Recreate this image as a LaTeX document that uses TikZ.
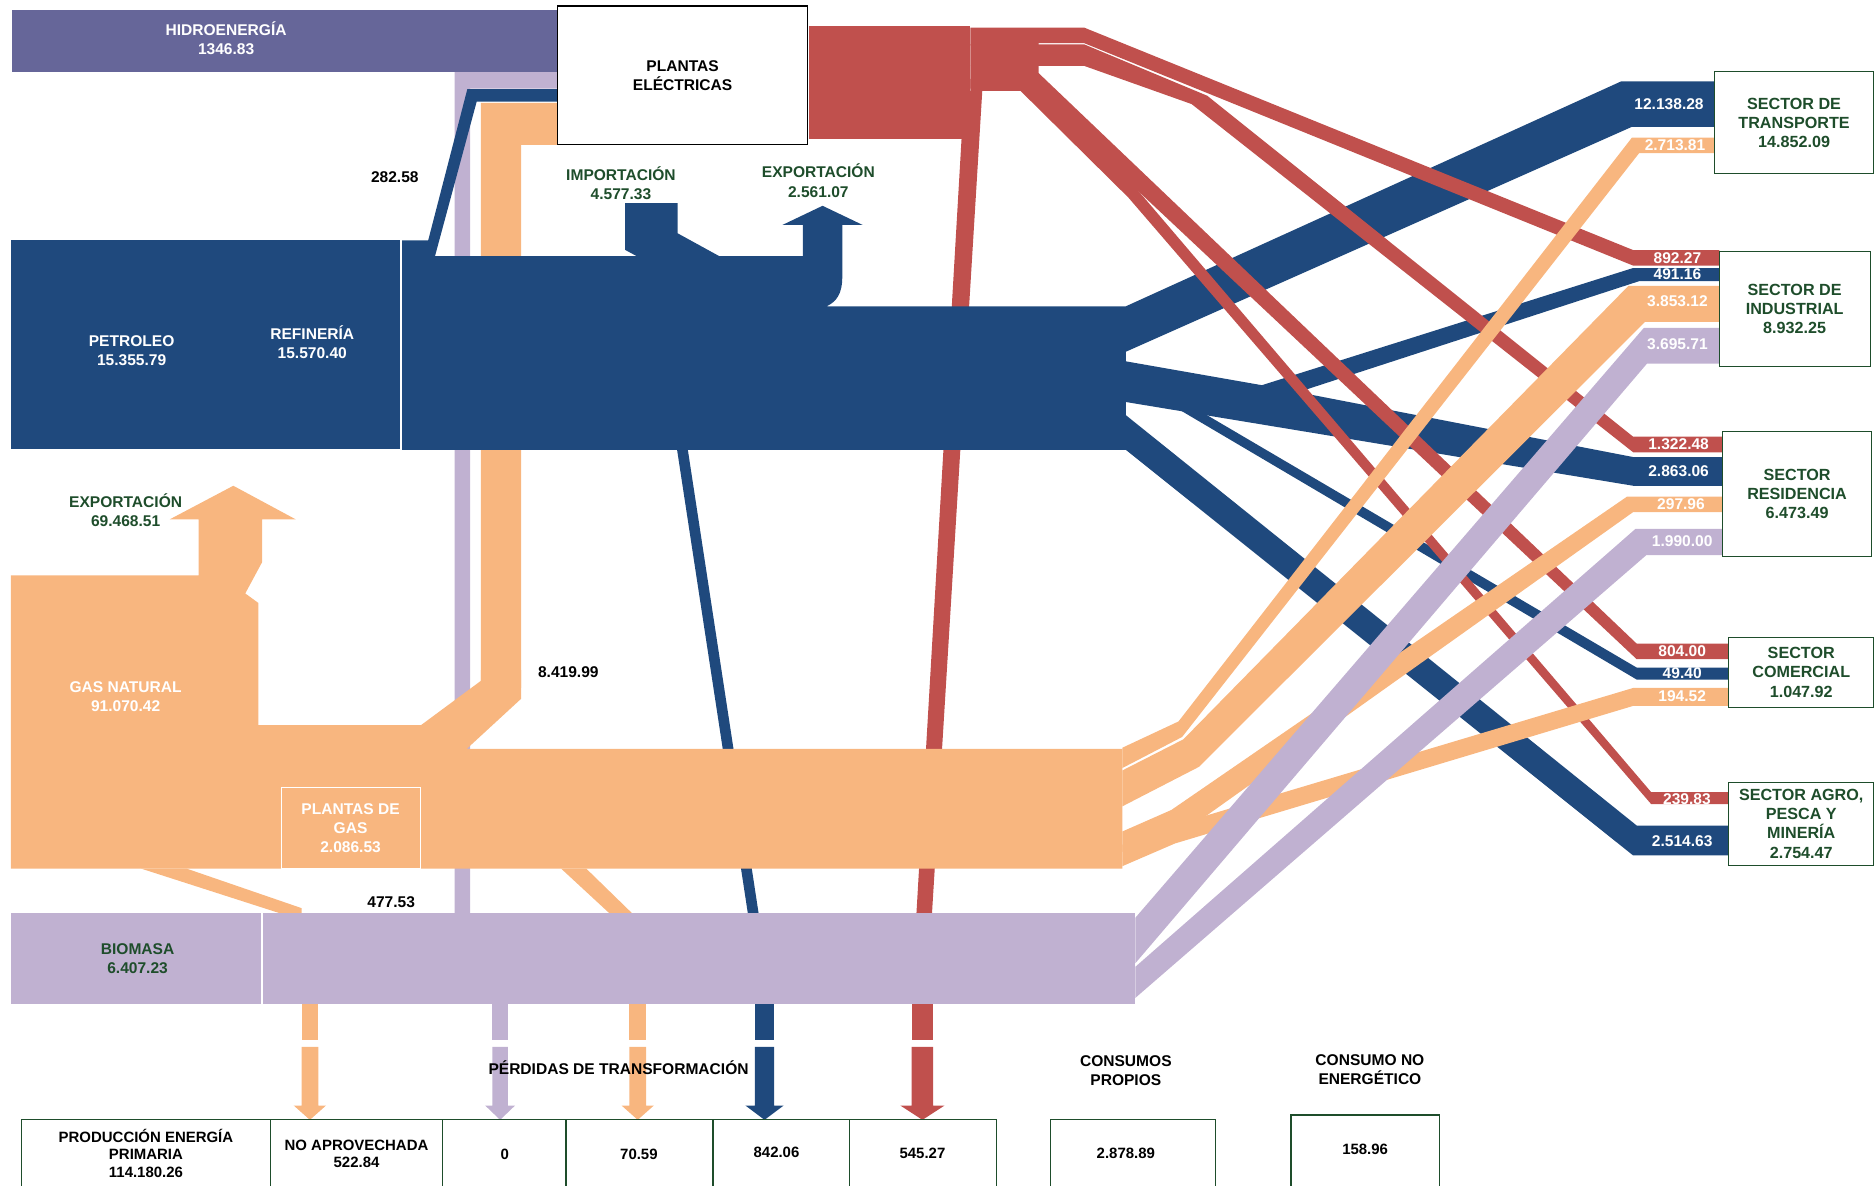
\documentclass[tikz,border=0pt]{standalone}
\usepackage{fontspec}
\setmainfont{Liberation Sans}
\definecolor{azul}{RGB}{31,73,125}
\definecolor{rojo}{RGB}{192,80,77}
\definecolor{naranja}{RGB}{248,182,127}
\definecolor{lila}{RGB}{192,177,209}
\definecolor{hidro}{RGB}{102,102,153}
\definecolor{verde}{RGB}{30,77,43}
\tikzset{
  txt/.style={font=\bfseries\fontsize{13}{16}\selectfont, align=center, inner sep=0pt},
  blanco/.style={txt, text=white},
  oscuro/.style={txt, text=verde},
  negro/.style={txt, text=black},
  tabla/.style={negro, font=\bfseries\fontsize{12.5}{14.5}\selectfont},
  sector/.style={oscuro, draw=verde, fill=white, line width=0.8pt, font=\bfseries\fontsize{13.5}{16}\selectfont},
  caja/.style={draw=verde, line width=1pt}
}
\begin{document}
\begin{tikzpicture}[x=1pt,y=-1pt]
\useasboundingbox (0,0) rectangle (1568,991);

% flujos hacia plantas electricas
\fill[lila] (380,763) -- (380,60) -- (466,60) -- (466,74) -- (393,74) -- (393,763) -- cycle;
\fill[naranja] (402,575) -- (402,86) -- (466,86) -- (466,121) -- (435.6,121) -- (435.6,575) -- cycle;
\fill[azul] (354.5,214) -- (390.6,74.5) -- (466,74.5) -- (466,85) -- (398.4,85) -- (363.6,214) -- cycle;

% perdidas
\fill[azul] (565,370) -- (574,370) -- (634,763) -- (625,763) -- cycle;
\fill[rojo] (806,76) -- (821,76) -- (779,763) -- (766,763) -- cycle;
\fill[naranja] (118,726) -- (156,726) -- (252,759) -- (252,763) -- (233,763) -- cycle;
\fill[naranja] (469,726) -- (490,726) -- (528,763) -- (509,763) -- cycle;

% derivados de petroleo
\fill[azul] (1045,325) -- (1365,224) -- (1437,224) -- (1437,235) -- (1370,235) -- (1075,331) -- cycle;
\fill[azul] (985,333) -- (1368,558) -- (1445,558) -- (1445,568) -- (1368,568) -- (985,342) -- cycle;
\fill[azul] (941,302) -- (1055,322) -- (1365,382) -- (1440,382) -- (1440,406) -- (1365,406) -- (941,336) -- cycle;
\fill[azul] (941,256) -- (1355,68) -- (1433,68) -- (1433,106) -- (1364,106) -- (941,294) -- cycle;
\fill[azul] (941,347) -- (1368,690) -- (1445,690) -- (1445,715) -- (1365,715) -- (941,376) -- cycle;

% electricidad
\fill[rojo] (811,23) -- (906,23) -- (1365,209) -- (1437,209) -- (1437,222) -- (1365,222) -- (906,36) -- (868,36) -- (868,38) -- (811,38) -- cycle;
\fill[rojo] (811,37) -- (906,37) -- (1009,80) -- (1365,365) -- (1440,365) -- (1440,378) -- (1365,378) -- (996,87) -- (906,55) -- (811,55) -- cycle;
\fill[rojo] (811,66) -- (865,66) -- (945,152) -- (1380,662) -- (1445,662) -- (1445,672) -- (1380,672) -- (943,165) -- (853,76) -- (811,76) -- cycle;
\fill[rojo] (811,55) -- (868,55) -- (868,61) -- (1368,538) -- (1445,538) -- (1445,551) -- (1368,551) -- (860,74) -- (811,74) -- cycle;

% gas natural
\fill[naranja] (938,625) -- (985,603) -- (1364,115) -- (1433,115) -- (1433,128) -- (1370,128) -- (988,616) -- (938,642) -- cycle;
\fill[naranja] (938,644) -- (989,618) -- (1361,239) -- (1437,239) -- (1437,269) -- (1375,269) -- (1002,641) -- (938,674) -- cycle;
\fill[naranja] (938,695) -- (979,677) -- (1360,415) -- (1440,415) -- (1440,428) -- (1365,428) -- (1001,687) -- (938,712) -- cycle;
\fill[naranja] (938,706) -- (987,688) -- (1365,575) -- (1445,575) -- (1445,590) -- (1365,590) -- (982,705) -- (938,724) -- cycle;

% biomasa
\fill[lila] (949,767) -- (1374,274) -- (1437,274) -- (1437,304) -- (1376.5,304) -- (949,805) -- cycle;
\fill[lila] (949,808) -- (1367,442) -- (1440,442) -- (1440,464) -- (1376,464) -- (949,834) -- cycle;

% bloques
\fill[azul] (9,201) rectangle (335,375);
\fill[azul] (336,376) -- (336,201) -- (358,201) -- (363.6,214) -- (532,214) -- (522.4,208.8) -- (522.4,169.8) -- (566.4,169.8) -- (566.4,195) -- (601,214) -- (671,214) -- (671,188) -- (654,188) -- (687.5,172) -- (721,188) -- (704,188) -- (704,231) .. controls (704,246) and (699,252) .. (691,256) -- (941,256) -- (941,376) -- cycle;
\fill[naranja] (9,726) -- (9,481) -- (166,481) -- (166,434) -- (142,434) -- (195,406) -- (247,434) -- (219,434) -- (219,470) -- (205,496) -- (216,504) -- (216,606) -- (352,606) -- (402,569) -- (402,560) -- (435.6,560) -- (435.6,584) -- (390,626) -- (938,626) -- (938,726) -- cycle;
\fill[lila] (9,763) rectangle (949,839);
\fill[rojo] (676,22) rectangle (811,116);
\fill[hidro] (10,8) rectangle (466,60);
\draw[white, line width=1pt] (335,201) -- (335,376);
\draw[white, line width=1pt] (219,763) -- (219,839);

\node[negro, draw=black, fill=white, line width=0.9pt, minimum width=209pt, minimum height=116pt] (plantas) at (570.5,63) {PLANTAS\\ELÉCTRICAS};
\node[blanco, draw=white, line width=0.6pt, minimum width=116pt, minimum height=68pt] (plantasgas) at (293,692) {PLANTAS DE\\GAS\\2.086.53};

% flechas de perdidas
\foreach \c/\w/\h/\col in {259/7/13.5/naranja, 418/6.5/12.5/lila, 533/7/13.5/naranja, 639/8/16/azul, 771/9/18.5/rojo}{
  \fill[\col] (\c-\w,839) rectangle (\c+\w,869);
  \fill[\col] (\c-\w,875) -- (\c-\w,924) -- (\c-\h,924) -- (\c,936) -- (\c+\h,924) -- (\c+\w,924) -- (\c+\w,875) -- cycle;
}

% sectores
\node[sector, minimum width=133pt, minimum height=85pt] (transporte) at (1499.5,102.5) {SECTOR DE\\TRANSPORTE\\14.852.09};
\node[sector, minimum width=126pt, minimum height=96pt] (industrial) at (1500,258) {SECTOR DE\\INDUSTRIAL\\8.932.25};
\node[sector, minimum width=124pt, minimum height=104pt] (residencia) at (1502,413) {SECTOR\\RESIDENCIA\\6.473.49};
\node[sector, minimum width=121pt, minimum height=58pt] (comercial) at (1505.5,562) {SECTOR\\COMERCIAL\\1.047.92};
\node[sector, minimum width=121pt, minimum height=69pt] (agro) at (1505.5,688.5) {SECTOR AGRO,\\PESCA Y\\MINERÍA\\2.754.47};

% valores de llegada
\foreach \x/\y/\t [count=\i] in {1395/87/12.138.28, 1400/121.5/2.713.81, 1402/215.5/892.27, 1402/229.5/491.16,
  1402/252/3.853.12, 1402/288/3.695.71, 1403/371.5/1.322.48, 1403/394/2.863.06, 1405/421.5/297.96,
  1406/452/1.990.00, 1406/544.5/804.00, 1406/563/49.40, 1406/582/194.52, 1410/668/239.83, 1406/703/2.514.63}
  \node[blanco] (v\i) at (\x,\y) {\t};

% etiquetas
\node[blanco] (hidroenergia) at (189,32) {HIDROENERGÍA\\1346.83};
\node[negro] (v28258) at (330,148) {282.58};
\node[oscuro] (importacion) at (519,153) {IMPORTACIÓN\\4.577.33};
\node[oscuro] (exportacion) at (684,151) {EXPORTACIÓN\\2.561.07};
\node[blanco] (petroleo) at (110,293) {PETROLEO\\15.355.79};
\node[blanco] (refineria) at (261,286) {REFINERÍA\\15.570.40};
\node[oscuro] (exportgas) at (105,426.5) {EXPORTACIÓN\\69.468.51};
\node[blanco] (gasnatural) at (105,582) {GAS NATURAL\\91.070.42};
\node[negro] (v841999) at (475,562) {8.419.99};
\node[negro] (v47753) at (327,754) {477.53};
\node[oscuro] (biomasa) at (115,801) {BIOMASA\\6.407.23};
\node[negro] (perdidas) at (517,892) {PÉRDIDAS DE TRANSFORMACIÓN};
\node[negro] (consumos) at (941,895) {CONSUMOS\\PROPIOS};
\node[negro] (noenergetico) at (1145,894) {CONSUMO NO\\ENERGÉTICO};

% tabla inferior
\draw[caja] (18,1000) -- (18,936) -- (833,936) -- (833,1000);
\foreach \x in {226,370,473,596,710} \draw[caja] (\x,936) -- (\x,1000);
\draw[caja] (878,1000) -- (878,936) -- (1016,936) -- (1016,1000);
\draw[caja] (1079,1000) -- (1079,932) -- (1203,932) -- (1203,1000);
\node[tabla] (produccion) at (122,964) {PRODUCCIÓN ENERGÍA\\PRIMARIA\\114.180.26};
\node[tabla] (noaprovechada) at (298,964.5) {NO APROVECHADA\\522.84};
\node[tabla] (p0) at (422,965) {0};
\node[tabla] (p7059) at (534,965) {70.59};
\node[tabla] (p84206) at (649,963.5) {842.06};
\node[tabla] (p54527) at (771,964) {545.27};
\node[tabla] (propios) at (941,964) {2.878.89};
\node[tabla] (noenerg) at (1141,961) {158.96};
\end{tikzpicture}
\end{document}
